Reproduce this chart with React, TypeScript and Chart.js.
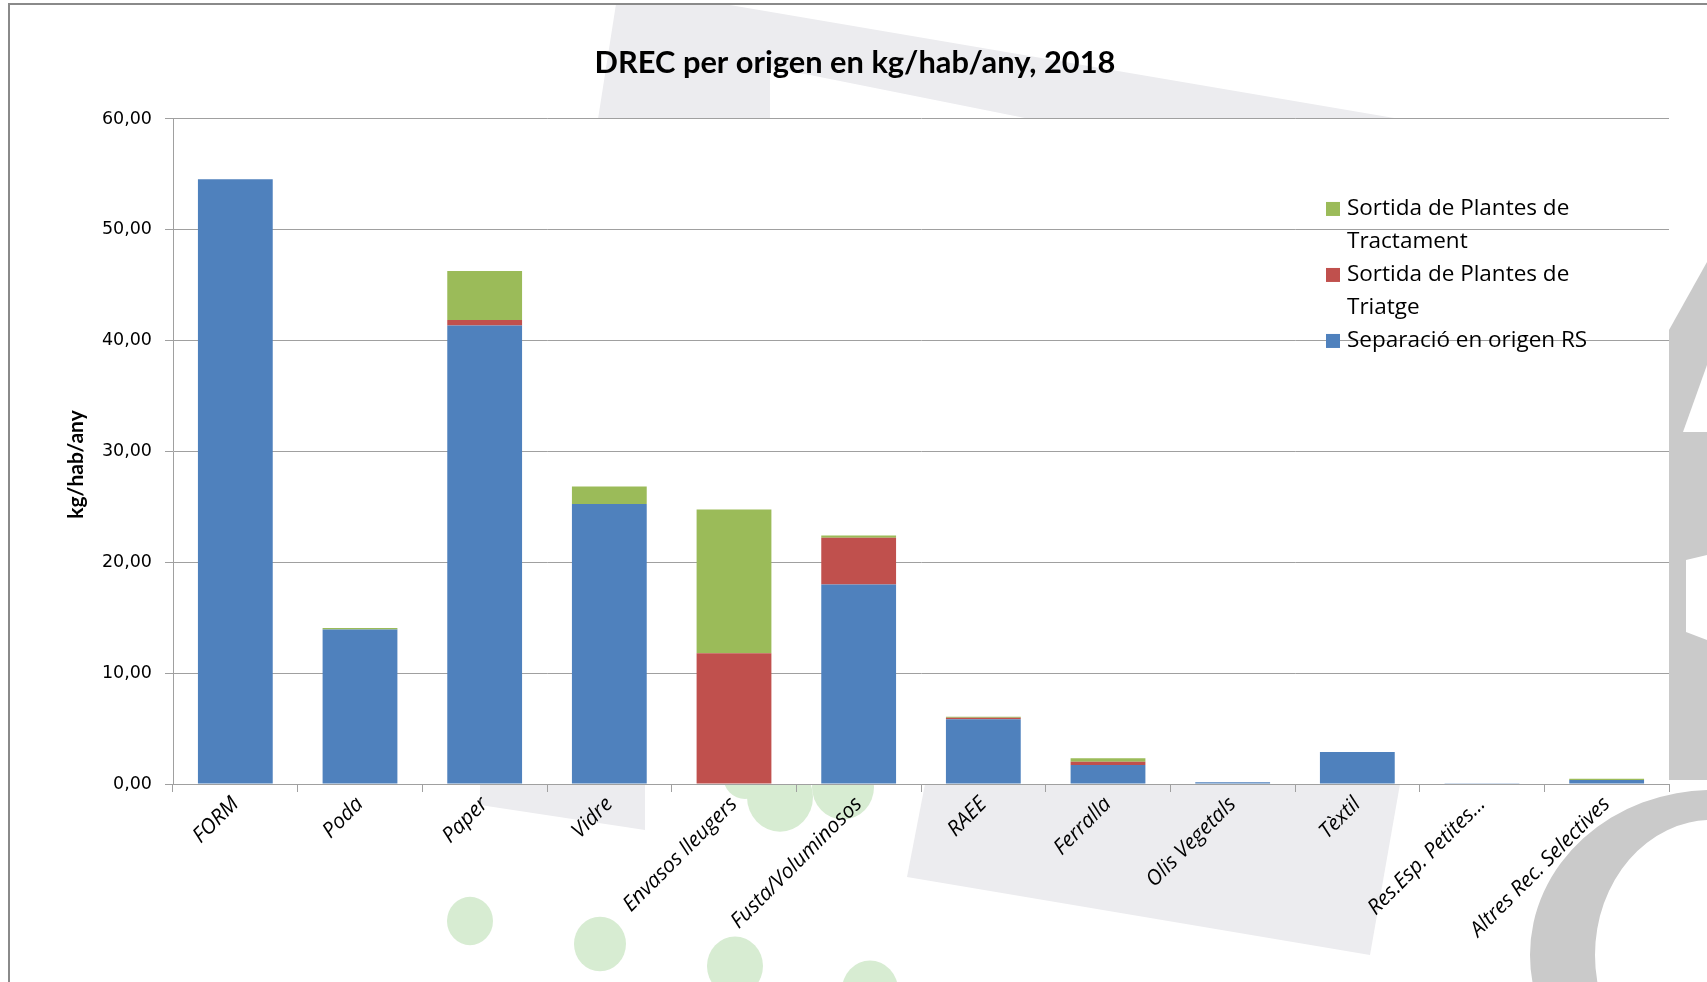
import React, { useEffect, useRef } from "react";
import { Chart, registerables } from "chart.js";

Chart.register(...registerables);

const categories = [
  "FORM",
  "Poda",
  "Paper",
  "Vidre",
  "Envasos lleugers",
  "Fusta/Voluminosos",
  "RAEE",
  "Ferralla",
  "Olis Vegetals",
  "Tèxtil",
  "Res.Esp. Petites...",
  "Altres Rec. Selectives",
];

const separacioOrigen = [54.56, 13.95, 41.37, 25.26, 0, 17.99, 5.85, 1.71, 0.15, 2.89, 0.02, 0.36];
const sortidaTriatge = [0, 0, 0.5, 0, 11.8, 4.22, 0.12, 0.3, 0, 0, 0, 0];
const sortidaTractament = [0, 0.12, 4.41, 1.57, 12.97, 0.2, 0.1, 0.31, 0, 0, 0, 0.12];

const seriesNames = [
  "Separació en origen RS",
  "Sortida de Plantes de Triatge",
  "Sortida de Plantes de Tractament",
];

const title = "DREC per origen en kg/hab/any, 2018";
const yTitle = "kg/hab/any";
const yTicks = { min: 0, max: 60, step: 10 };

function poly(ctx: CanvasRenderingContext2D, pts: number[][]) {
  ctx.beginPath();
  pts.forEach((p, i) => (i ? ctx.lineTo(p[0], p[1]) : ctx.moveTo(p[0], p[1])));
  ctx.closePath();
  ctx.fill();
}

const backgroundPlugin = {
  id: "bgWatermark",
  beforeDraw(chart: any) {
    const { ctx, chartArea: a, width, height } = chart;
    ctx.save();
    ctx.fillStyle = "#ffffff";
    ctx.fillRect(0, 0, width, height);
    // light grey watermark shapes
    ctx.fillStyle = "#ececef";
    poly(ctx, [[616, 4], [724, 4], [1400, 119], [1030, 119], [770, 67], [770, 119], [598, 119]]);
    poly(ctx, [[480, 784], [645, 784], [645, 830], [480, 805]]);
    poly(ctx, [[925, 784], [1400, 784], [1370, 955], [907, 877]]);
    // green circles
    ctx.fillStyle = "#d7ecd2";
    const circles = [
      [470, 921, 23],
      [600, 944, 26],
      [735, 966, 28],
      [870, 990, 28],
      [745, 776, 22],
      [780, 797, 33],
      [843, 787, 31],
    ];
    circles.forEach(([cx, cy, r]) => {
      ctx.beginPath();
      ctx.ellipse(cx, cy, r, r * 1.05, 0, 0, Math.PI * 2);
      ctx.fill();
    });
    // darker grey logo shapes on the right
    ctx.fillStyle = "#cacaca";
    ctx.beginPath();
    ctx.ellipse(1712, 955, 182, 165, 0, 0, Math.PI * 2);
    ctx.ellipse(1712, 955, 117, 135, 0, 0, Math.PI * 2, true);
    ctx.fill("evenodd");
    poly(ctx, [[1707, 262], [1707, 780], [1669, 780], [1669, 330]]);
    ctx.fillStyle = "#ffffff";
    poly(ctx, [[1707, 365], [1707, 432], [1683, 432]]);
    poly(ctx, [[1686, 560], [1707, 555], [1707, 640], [1686, 632]]);
    // plot area white fill
    ctx.fillRect(a.left, a.top, a.right - a.left, a.bottom - a.top);
    ctx.restore();
  },
  afterDraw(chart: any) {
    const { ctx, width, height, chartArea: a } = chart;
    ctx.save();
    ctx.strokeStyle = "#8a8a8a";
    ctx.lineWidth = 2;
    ctx.strokeRect(9, 4, width + 20, height + 20);
    // y axis title
    ctx.translate(76, (a.top + a.bottom) / 2 + 13);
    ctx.rotate(-Math.PI / 2);
    ctx.font = "bold 21px Lato";
    ctx.fillStyle = "#000";
    ctx.textAlign = "center";
    ctx.textBaseline = "middle";
    ctx.fillText(yTitle, 0, 0);
    ctx.restore();
  },
};

function wrapText(ctx: CanvasRenderingContext2D, text: string, maxW: number) {
  const words = text.split(" ");
  const lines: string[] = [];
  let cur = "";
  words.forEach((w) => {
    const t = cur ? cur + " " + w : w;
    if (ctx.measureText(t).width > maxW && cur) {
      lines.push(cur);
      cur = w;
    } else cur = t;
  });
  if (cur) lines.push(cur);
  return lines;
}

const legendPlugin = {
  id: "wrapLegend",
  afterDatasetsDraw(chart: any) {
    const { ctx, chartArea: a } = chart;
    const x0 = a.right - 343;
    let y = a.top + 90;
    const lh = 33;
    const box = 14;
    ctx.save();
    ctx.font = "22.5px 'Open Sans'";
    ctx.textBaseline = "middle";
    ctx.textAlign = "left";
    const ds = chart.data.datasets.slice().reverse();
    ds.forEach((d: any) => {
      const lines = wrapText(ctx, d.label, 275);
      ctx.fillStyle = d.backgroundColor;
      ctx.fillRect(x0, y - box / 2, box, box);
      ctx.fillStyle = "#000";
      lines.forEach((l, i) => ctx.fillText(l, x0 + 21, y + i * lh));
      y += lines.length * lh;
    });
    ctx.restore();
  },
};

export default function App() {
  const ref = useRef<HTMLCanvasElement>(null);
  useEffect(() => {
    if (!ref.current) return;
    const chart = new Chart(ref.current, {
      type: "bar",
      data: {
        labels: categories,
        datasets: [
          { label: seriesNames[0], data: separacioOrigen, backgroundColor: "#4F81BD" },
          { label: seriesNames[1], data: sortidaTriatge, backgroundColor: "#C0504D" },
          { label: seriesNames[2], data: sortidaTractament, backgroundColor: "#9BBB59" },
        ],
      },
      options: {
        animation: false,
        responsive: false,
        devicePixelRatio: 1,
        layout: { padding: { left: 41, right: 38, top: 0, bottom: 0 } },
        datasets: { bar: { barPercentage: 0.6, categoryPercentage: 1, borderWidth: 0 } },
        plugins: {
          legend: { display: false },
          tooltip: { enabled: false },
          title: {
            display: true,
            text: title,
            color: "#000",
            font: { family: "Lato", size: 30.8, weight: "bold", lineHeight: 1.2 },
            padding: { top: 45, bottom: 37 },
          },
        },
        scales: {
          x: {
            stacked: true,
            afterFit: (s: any) => {
              s.height = 198;
            },
            grid: { drawOnChartArea: false, drawTicks: true, tickLength: 8, color: "#a0a0a0", offset: true },
            border: { display: true, color: "#a0a0a0" },
            ticks: {
              autoSkip: false,
              maxRotation: 45,
              minRotation: 45,
              color: "#000",
              padding: 0,
              font: { family: "Open Sans", size: 21, style: "italic" },
            },
          },
          y: {
            stacked: true,
            min: yTicks.min,
            max: yTicks.max,
            afterFit: (s: any) => {
              s.width = 132;
            },
            grid: { color: "#a0a0a0", tickLength: 8, drawTicks: true },
            border: { display: true, color: "#a0a0a0" },
            ticks: {
              stepSize: yTicks.step,
              color: "#000",
              padding: 13,
              font: { family: "DejaVu Sans", size: 17.5 },
              callback: (v: any) => Number(v).toFixed(2).replace(".", ","),
            },
          },
        },
      },
      plugins: [backgroundPlugin, legendPlugin],
    });
    return () => chart.destroy();
  }, []);
  return (
    <div style={{ position: "fixed", left: 0, top: 0, width: 1707, height: 982, overflow: "hidden" }}>
      <canvas ref={ref} width={1707} height={982} style={{ width: 1707, height: 982, display: "block" }} />
    </div>
  );
}
